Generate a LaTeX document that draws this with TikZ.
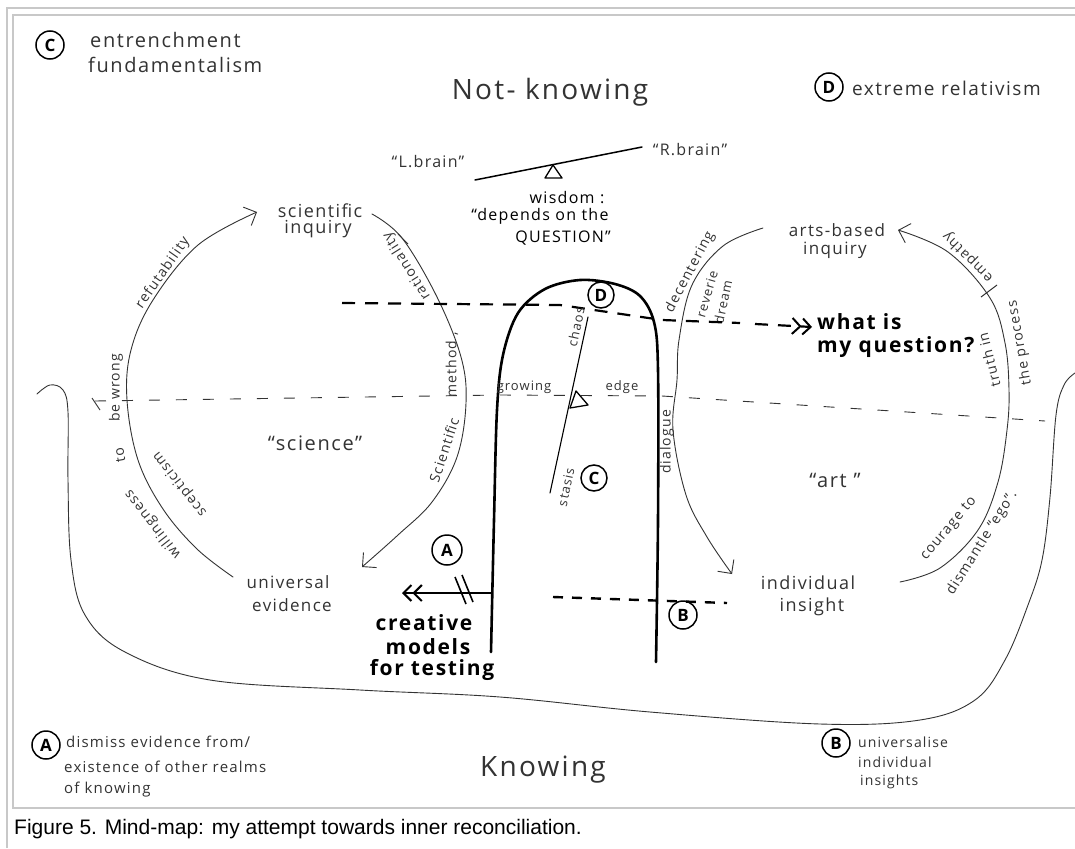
\documentclass[tikz,border=0pt]{standalone}
\usepackage{fontspec}
\setmainfont{Open Sans}
\newfontfamily\hw{Open Sans}[LetterSpace=8]
\newfontfamily\hwr{Open Sans}
\newfontfamily\capfont{Liberation Sans}
\usetikzlibrary{arrows.meta}
\definecolor{inkc}{HTML}{333333}
\definecolor{framec}{HTML}{C8C8C8}
\newcommand\fsz[1]{\fontsize{#1}{#1}\selectfont}
\begin{document}
\begin{tikzpicture}[x=1pt,y=-1pt,
  lab/.style={inner sep=0pt, text=inkc, font=\hw\fsz{#1}},
  lab/.default=16,
  rlab/.style={inner sep=0pt, text=inkc, font=\hw\fsz{#1}},
  rlab/.default=14,
  blab/.style={inner sep=0pt, text=black, font=\hw\bfseries\fsz{#1}},
  blab/.default=21,
  circ/.style={draw=black, circle, line width=1.5pt, inner sep=0pt, minimum size=#1, font=\hwr\bfseries\fsz{17}},
  circ/.default=28pt,
  arcline/.style={draw=inkc, line width=0.9pt, line cap=round},
  barb/.style={-{Straight Barb[length=10pt,width=20pt,line width=0.9pt]}},
  dbarb/.style={line width=2.2pt, -{Straight Barb[length=8pt,width=16pt,line width=2pt]Straight Barb[length=8pt,width=16pt,line width=2pt]}},
]
\useasboundingbox (0,0) rectangle (1075,848);
\fill[white] (0,0) rectangle (1075,848);
% frames
\draw[framec, line width=2pt] (7,848) -- (7,8) -- (1075,8);
\draw[framec, line width=2pt] (1075,808) -- (13,808) -- (13,15) -- (1075,15);
\node[anchor=base west, inner sep=0pt, font=\capfont\fsz{21}] (caption) at (14,834) {Figure 5. Mind-map: my attempt towards inner reconciliation.};

% corner labels
\node[circ] (cC) at (50,45) {C};
\node[lab=20, anchor=west] (ent1) at (90,40) {entrenchment};
\node[lab=20, anchor=west] (ent2) at (88,65) {fundamentalism};
\node[circ] (cD) at (829,87) {D};
\node[lab=19, anchor=west] (rel) at (852,88) {extreme relativism};
\node[lab=28] (notk) at (550,92) {Not- knowing};
\node[lab=28] (know) at (543,770) {Knowing};
\node[circ] (cA) at (46,745) {A};
\node[lab=15, anchor=west] (a1) at (66,742) {dismiss evidence from/};
\node[lab=15, anchor=west] (a2) at (64,767) {existence of other realms};
\node[lab=15, anchor=west] (a3) at (64,790) {of knowing};
\node[circ] (cB) at (836,743) {B};
\node[lab=14, anchor=west] (b1) at (858,742) {universalise};
\node[lab=14, anchor=west] (b2) at (858,762) {individual};
\node[lab=14, anchor=west] (b3) at (860,782) {insights};

% seesaw
\node[lab=16] (lbrain) at (428,162) {“L.brain”};
\node[lab=16] (rbrain) at (690,150) {“R.brain”};
\coordinate (sl) at (475,180);
\coordinate (sr) at (642,147);
\draw[line width=1.5pt, line cap=round] (sl) -- (sr);
\draw[line width=1.3pt, line join=round] (553,165) -- (545,178) -- (562,178) -- cycle;
\node[lab=16, text=black] (wis) at (567,198) {wisdom :};
\node[lab=16, text=black] (dep) at (540,216) {“depends on the};
\node[lab=16, text=black] (ques) at (563,238) {QUESTION”};

% science loop
\node[lab=18] (sci1) at (320,211) {scientific};
\node[lab=18] (sci2) at (318,229) {inquiry};
\node[lab=17] (uni1) at (288,582) {universal};
\node[lab=17] (uni2) at (292,605) {evidence};
\node[lab=20] (scil) at (315,443) {“science”};
\coordinate (sL0) at (233,577);
\coordinate (sL1) at (257,212);
\draw[arcline, barb] plot[smooth, tension=0.6] coordinates {(sL0) (197,549) (163,509) (138,460) (127,400) (131,350) (153,300) (198,245) (sL1)};
\coordinate (sR0) at (372,214);
\coordinate (sR1) at (362,567);
\draw[arcline, barb] plot[smooth, tension=0.6] coordinates {(sR0) (402,238) (437,297) (461,357) (466,403) (457,457) (432,502) (398,535) (sR1)};
\node[rlab, rotate=55] at (163,273) {refutability};
\node[rlab, rotate=90] at (116,388) {be wrong};
\node[rlab, rotate=100] at (120,455) {to};
\node[rlab, rotate=128] at (153,524) {willingness};
\node[rlab, rotate=128] at (180,484) {scepticism};
\draw[inkc, line width=0.9pt] (92,398) -- (100,410);
\node[rlab, rotate=122] at (407,266) {rationality};
\draw[inkc, line width=0.9pt] (398,234) -- (408,244);
\node[rlab, rotate=90] at (452,365) {method ,};
\node[rlab, rotate=72] at (444,450) {Scientific};

% arts loop
\node[lab=17] (art1) at (837,230) {arts-based};
\node[lab=17] (art2) at (835,250) {inquiry};
\node[lab=18] (ind1) at (808,583) {individual};
\node[lab=18] (ind2) at (812,607) {insight};
\node[lab=20] (artl) at (835,480) {“art ”};
\coordinate (aL0) at (763,228);
\coordinate (aL1) at (732,574);
\draw[arcline, barb] plot[smooth, tension=0.6] coordinates {(aL0) (723,246) (692,285) (679,340) (677,380) (673,430) (686,495) (707,537) (aL1)};
\coordinate (aR0) at (900,582);
\coordinate (aR1) at (898,230);
\draw[arcline, barb] plot[smooth, tension=0.6] coordinates {(aR0) (940,568) (978,530) (998,482) (1007,430) (1009,390) (1005,343) (990,298) (948,252) (aR1)};
\node[rlab, rotate=62] at (690,272) {decentering};
\node[rlab=13, rotate=74] at (707,294) {reverie};
\node[rlab=13, rotate=78] at (723,302) {dream};
\node[rlab, rotate=90] at (667,442) {dialogue};
\node[rlab, rotate=50] at (949,529) {courage to};
\node[rlab, rotate=58] at (982,543) {dismantle “ego”.};
\node[rlab, rotate=135] at (968,257) {empathy};
\draw[inkc, line width=1pt] (981,297) -- (997,285);
\node[rlab, rotate=100] at (1020,343) {the process};
\node[rlab, rotate=104] at (989,360) {truth in};

% outer knowing boundary
\draw[arcline] plot[smooth, tension=0.6] coordinates {(37,394) (50,385) (63,390) (68,412) (68,480) (71,560) (85,615) (125,652) (210,680) (360,690) (500,697) (650,712) (820,724) (920,720) (975,700) (1005,660) (1028,605) (1042,560) (1050,497) (1056,415) (1064,385) (1075,373)};

% dashed lines
\node[blab=21, anchor=west] (q1) at (817,322) {what is};
\node[blab=21, anchor=west] (q2) at (817,347) {my question?};
\coordinate (qtip) at (812,327);
\draw[line width=2.2pt, dash pattern=on 13pt off 10pt] (342,303) -- (560,305) -- (662,320) -- (740,323);
\draw[dbarb, dash pattern=on 13pt off 10pt] (755,324) -- (qtip);
\draw[inkc, line width=0.9pt, dash pattern=on 11pt off 16pt] (95,401) -- (500,395) -- (662,396) -- (1045,421);
\draw[line width=2.4pt, dash pattern=on 10pt off 9pt] (553,597) -- (727,603);
\node[circ] (cB2) at (683,615) {B};

% finger
\draw[line width=2.6pt, line cap=round, line join=round] plot[smooth, tension=0.55] coordinates {(491,652) (494,520) (497,410) (503,355) (518,313) (545,289) (580,280) (615,284) (640,296) (654,322) (658,370) (658,520) (656,662)};
\node[circ=26pt] (cD2) at (601,295) {D};
\node[circ=26pt] (cC2) at (594,478) {C};
\coordinate (lnT) at (588,317);
\coordinate (lnB) at (550,493);
\draw[line width=1.1pt, line cap=round] (lnT) -- (lnB);
\draw[line width=1.3pt, line join=round] (576,391) -- (570,408) -- (588,405) -- cycle;
\node[rlab=13, rotate=78] at (576,327) {chaos};
\node[rlab=13, rotate=78] at (566,487) {stasis};
\node[lab=13] at (524,387) {growing};
\node[lab=13] at (622,387) {edge};

% creative models
\node[circ=30pt] (cA2) at (447,550) {A};
\coordinate (atip) at (402,593);
\draw[dbarb] (492,593) -- (atip);
\draw[line width=1.6pt] (455,577) -- (466,604);
\draw[line width=1.6pt] (462,575) -- (473,602);
\node[blab=21] (cr1) at (424,623) {creative};
\node[blab=21] (cr2) at (428,647) {models};
\node[blab=21] (cr3) at (432,670) {for testing};
\end{tikzpicture}
\end{document}
